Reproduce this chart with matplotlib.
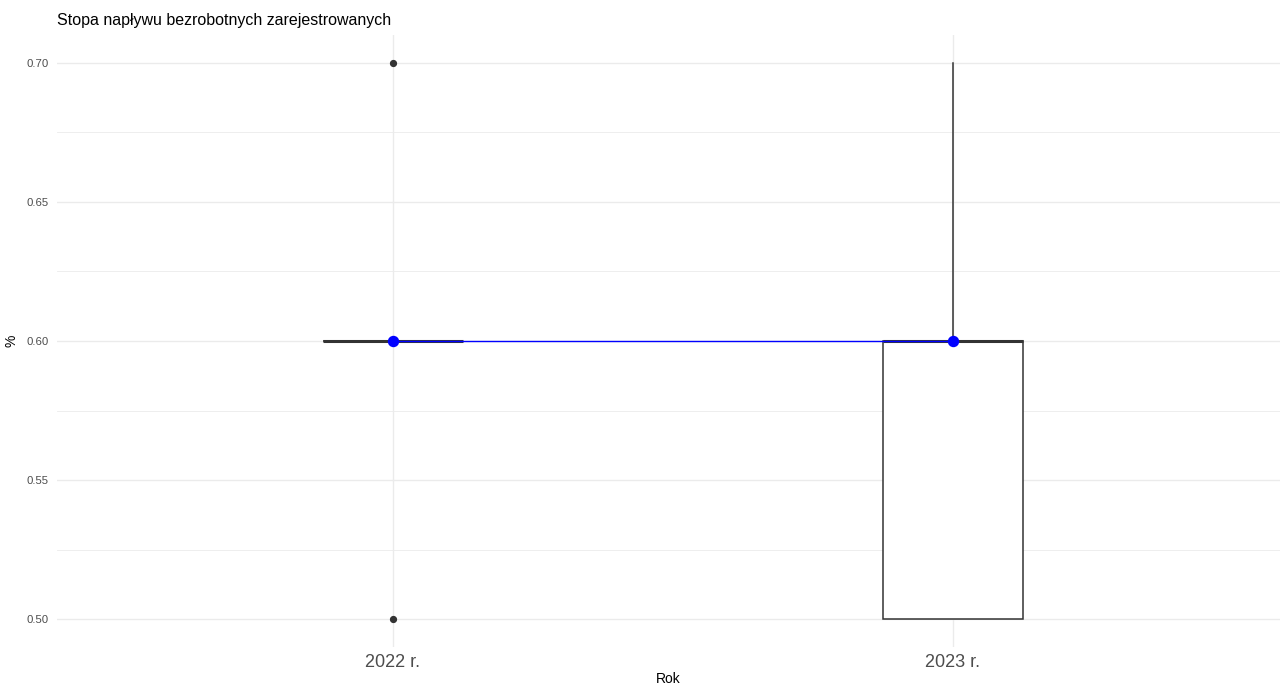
import numpy as np
import matplotlib.pyplot as plt
from matplotlib.ticker import MultipleLocator

plt.rcParams['font.family'] = ['Liberation Sans', 'DejaVu Sans']

years = ['2022 r.', '2023 r.']
values_2022 = [0.5, 0.6, 0.6, 0.6, 0.6, 0.6, 0.6, 0.7]
values_2023 = [0.5, 0.5, 0.6, 0.6, 0.7]
data = [values_2022, values_2023]

fig = plt.figure(figsize=(12.8, 6.87), dpi=100)
ax = fig.add_axes([57 / 1280, 40 / 687, 1 - 57 / 1280, (647 - 35) / 687])

pos = np.arange(1, len(years) + 1)
dark = '#333333'
ax.boxplot(data, positions=pos, widths=0.25, whis=1.5, patch_artist=True,
           boxprops=dict(facecolor='white', edgecolor=dark, linewidth=1.1),
           medianprops=dict(color=dark, linewidth=2.2),
           whiskerprops=dict(color=dark, linewidth=1.1),
           capprops=dict(linewidth=0),
           flierprops=dict(marker='o', markerfacecolor=dark, markeredgecolor=dark,
                           markersize=4.2),
           zorder=3)

medians = [np.median(v) for v in data]
ax.plot(pos, medians, color='blue', linewidth=1.0, zorder=4)
ax.plot(pos, medians, 'o', color='blue', markersize=7.2, zorder=5)

ax.set_xlim(0.4, 2.584)
ax.set_ylim(0.49, 0.71)
ax.set_xticks(pos)
ax.set_xticklabels(years, fontsize=13, color='#4d4d4d')
ax.yaxis.set_major_locator(MultipleLocator(0.05))
ax.yaxis.set_minor_locator(MultipleLocator(0.025))
ax.yaxis.set_major_formatter(plt.FuncFormatter(lambda v, p: f'{v:.2f}'))
ax.tick_params(axis='y', labelsize=8.2, labelcolor='#4d4d4d', length=0, pad=6)
ax.tick_params(axis='x', length=0, pad=5)
ax.tick_params(which='minor', length=0)

ax.grid(which='major', color='#ebebeb', linewidth=1.0, zorder=0)
ax.grid(which='minor', axis='y', color='#ebebeb', linewidth=0.6, zorder=0)
ax.set_axisbelow(True)
for s in ax.spines.values():
    s.set_visible(False)

ax.set_xlabel('Rok', fontsize=10, labelpad=1)
ax.set_ylabel('%', fontsize=10, labelpad=6)
fig.text(57 / 1280, 1 - 20 / 687, 'Stopa napływu bezrobotnych zarejestrowanych',
         fontsize=11.5, ha='left', va='center')

fig.savefig('out.png', dpi=100)
